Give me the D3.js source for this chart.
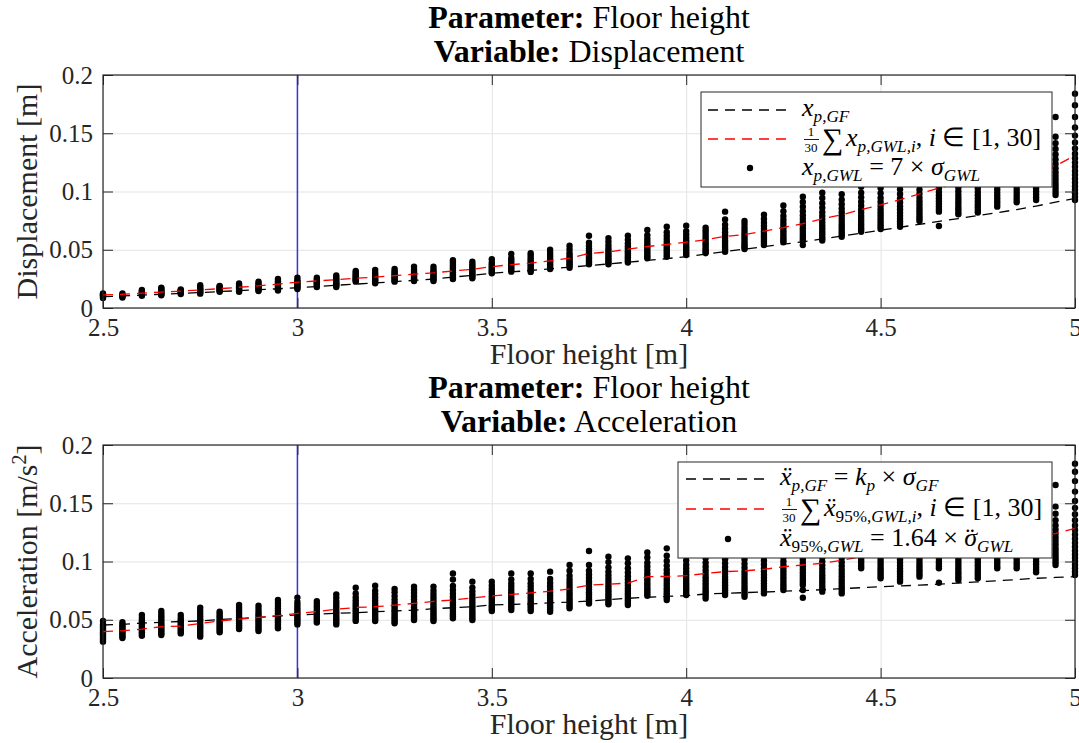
<!DOCTYPE html>
<html><head><meta charset="utf-8">
<script src="https://cdn.jsdelivr.net/npm/d3@7"></script>
<style>
body{margin:0;background:#fff}
svg text{font-family:"Liberation Serif","Times New Roman",serif !important; white-space:pre}
</style></head>
<body><svg id="c" width="1079" height="743"></svg>
<script>
// ---------------- DATA ----------------
const floorHeights = [2.5,2.55,2.6,2.65,2.7,2.75,2.8,2.85,2.9,2.95,3.0,3.05,3.1,3.15,3.2,3.25,3.3,3.35,3.4,3.45,3.5,3.55,3.6,3.65,3.7,3.75,3.8,3.85,3.9,3.95,4.0,4.05,4.1,4.15,4.2,4.25,4.3,4.35,4.4,4.45,4.5,4.55,4.6,4.65,4.7,4.75,4.8,4.85,4.9,4.95,5.0];
const xTicks = [2.5,3,3.5,4,4.5,5];
const xTickLabels = ["2.5","3","3.5","4","4.5","5"];
const yTicks = [0,0.05,0.1,0.15,0.2];
const yTickLabels = ["0","0.05","0.1","0.15","0.2"];
const referenceHeight = 3.0;

// Displacement: ground floor (GF) peak, mean of GWL peaks, GWL peaks (30 per height, overlapping)
const dispGF = [0.0097,0.0104,0.0111,0.0118,0.0125,0.0133,0.0141,0.0149,0.0157,0.0165,0.0174,0.0184,0.0195,0.0205,0.0215,0.0226,0.0237,0.0249,0.0265,0.0281,0.0298,0.031,0.0322,0.0336,0.035,0.0364,0.0378,0.0393,0.0408,0.0424,0.0441,0.0462,0.0484,0.0505,0.0527,0.0548,0.0568,0.0593,0.0618,0.0643,0.0668,0.0693,0.0718,0.0743,0.0768,0.0793,0.0818,0.0845,0.0875,0.0908,0.0941];
const dispMean = [0.0112,0.0118,0.0127,0.0137,0.0145,0.0155,0.0166,0.0178,0.019,0.0205,0.0222,0.0232,0.0244,0.0255,0.0265,0.0278,0.029,0.0302,0.0318,0.0332,0.0355,0.0372,0.0385,0.0405,0.0428,0.0468,0.0482,0.0505,0.0528,0.0545,0.0565,0.0585,0.0615,0.063,0.066,0.069,0.0725,0.0765,0.08,0.0845,0.0885,0.093,0.098,0.103,0.107,0.11,0.113,0.116,0.119,0.122,0.131];
const dispGWL = [
[0.0085,0.0095,0.0103,0.011,0.0118,0.0125],
[0.009,0.0098,0.0106,0.0114,0.0125],
[0.0105,0.0113,0.012,0.0128,0.0137,0.0146,0.0155],
[0.011,0.0118,0.0126,0.0135,0.0145,0.0155,0.0165,0.0175],
[0.012,0.0128,0.0136,0.0145,0.0152,0.016],
[0.0123,0.0132,0.0141,0.015,0.016,0.017,0.018,0.0195],
[0.014,0.0148,0.0156,0.0165,0.0175,0.0183,0.019],
[0.014,0.0148,0.0157,0.0166,0.0176,0.0186,0.0198,0.021],
[0.0146,0.0155,0.0165,0.0175,0.0185,0.0196,0.021,0.0226],
[0.015,0.016,0.017,0.018,0.019,0.0202,0.0215,0.023,0.025],
[0.0163,0.0173,0.0183,0.0193,0.0204,0.0215,0.0226,0.0238,0.026],
[0.018,0.019,0.02,0.021,0.022,0.023,0.0245,0.026],
[0.018,0.019,0.0201,0.0212,0.0224,0.0236,0.0248,0.0262,0.028],
[0.0226,0.0236,0.0246,0.0256,0.0267,0.0278,0.029,0.0303,0.0318],
[0.0212,0.0224,0.0236,0.0248,0.026,0.0272,0.0285,0.03,0.0326],
[0.0226,0.0238,0.025,0.0262,0.0274,0.0287,0.03,0.0316,0.0335],
[0.0232,0.0245,0.0258,0.0271,0.0284,0.0298,0.0312,0.0328,0.0355],
[0.0232,0.0245,0.0258,0.0271,0.0284,0.0298,0.0312,0.033,0.0355],
[0.0249,0.0262,0.0276,0.029,0.0305,0.032,0.0336,0.0352,0.037,0.039,0.041],
[0.0255,0.0268,0.0282,0.0296,0.031,0.0325,0.034,0.0356,0.0375,0.0398],
[0.0298,0.031,0.0322,0.0334,0.0347,0.036,0.0374,0.039,0.0418],
[0.0312,0.0325,0.0338,0.0352,0.0366,0.038,0.0396,0.0412,0.043,0.0464],
[0.031,0.0323,0.0337,0.0351,0.0366,0.0381,0.0397,0.0414,0.0432,0.0452,0.047],
[0.0335,0.0348,0.0362,0.0376,0.0391,0.0406,0.0422,0.044,0.046,0.048,0.05],
[0.0346,0.036,0.0375,0.039,0.0405,0.042,0.0437,0.0455,0.0475,0.0505,0.0535],
[0.0375,0.039,0.0405,0.042,0.0436,0.0452,0.047,0.049,0.051,0.0535,0.056,0.062],
[0.0375,0.039,0.0406,0.0422,0.0439,0.0456,0.0474,0.0494,0.0516,0.054,0.057,0.06],
[0.039,0.0405,0.042,0.0436,0.0453,0.047,0.0488,0.0508,0.053,0.0555,0.0585,0.062],
[0.0426,0.0441,0.0457,0.0473,0.049,0.0508,0.0527,0.0548,0.057,0.0595,0.0625,0.067],
[0.044,0.0456,0.0472,0.0489,0.0507,0.0526,0.0546,0.0568,0.0592,0.062,0.065,0.0698],
[0.0455,0.047,0.0486,0.0503,0.0521,0.054,0.056,0.0582,0.0606,0.0632,0.066,0.0707],
[0.047,0.0485,0.0501,0.0518,0.0536,0.0555,0.0575,0.0597,0.062,0.0645,0.0668,0.069],
[0.0483,0.05,0.0518,0.0537,0.0557,0.0578,0.06,0.0624,0.065,0.068,0.0715,0.076,0.0827],
[0.0506,0.0522,0.0539,0.0557,0.0576,0.0596,0.0618,0.064,0.0665,0.0692,0.072,0.0747],
[0.054,0.0557,0.0575,0.0594,0.0614,0.0635,0.0657,0.068,0.0705,0.0732,0.0765,0.08],
[0.0564,0.058,0.0598,0.0617,0.0637,0.0658,0.068,0.0704,0.073,0.0758,0.079,0.083,0.088],
[0.054,0.0575,0.0595,0.0616,0.0638,0.0661,0.0685,0.071,0.0737,0.0766,0.0797,0.083,0.087,0.091,0.0955],
[0.058,0.0598,0.0618,0.0639,0.0661,0.0684,0.0708,0.0733,0.076,0.079,0.0822,0.086,0.09,0.0945,0.099],
[0.0612,0.063,0.065,0.0671,0.0693,0.0716,0.074,0.0766,0.0793,0.0822,0.0855,0.089,0.093,0.0976],
[0.0655,0.0675,0.0696,0.0718,0.0741,0.0765,0.079,0.0817,0.0846,0.0878,0.0912,0.095,0.099,0.104,0.11,0.116],
[0.0678,0.07,0.0722,0.0745,0.0769,0.0794,0.082,0.0848,0.0878,0.091,0.0945,0.0985,0.103,0.108,0.114,0.12],
[0.0698,0.072,0.0743,0.0767,0.0792,0.0818,0.0845,0.0874,0.0905,0.094,0.0978,0.102,0.107,0.113,0.12],
[0.0747,0.0768,0.079,0.0813,0.0837,0.0862,0.0888,0.0916,0.0946,0.098,0.1015,0.1055,0.11,0.117,0.125],
[0.0704,0.0827,0.0848,0.087,0.0893,0.0917,0.0942,0.0968,0.0996,0.1027,0.106,0.11,0.115,0.121,0.13],
[0.0804,0.0825,0.0847,0.087,0.0894,0.0919,0.0945,0.0973,0.1003,0.1035,0.107,0.111,0.116,0.122,0.128,0.135],
[0.082,0.0842,0.0865,0.0889,0.0914,0.094,0.0967,0.0996,0.1027,0.106,0.1096,0.1135,0.118,0.124,0.131,0.14],
[0.087,0.0892,0.0915,0.0939,0.0964,0.099,0.1017,0.1046,0.1077,0.111,0.1146,0.1185,0.123,0.128,0.134,0.14],
[0.0907,0.093,0.0954,0.0979,0.1005,0.1032,0.106,0.109,0.1122,0.1156,0.1193,0.1233,0.128,0.133,0.139,0.145],
[0.0927,0.095,0.0975,0.1001,0.1028,0.1056,0.1085,0.1116,0.1149,0.1184,0.1222,0.1263,0.131,0.137,0.143,0.15],
[0.097,0.0995,0.1021,0.1048,0.1076,0.1105,0.1135,0.1166,0.12,0.1236,0.1275,0.1318,0.1365,0.1415,0.147,0.164],
[0.0927,0.0955,0.0985,0.1015,0.1046,0.1078,0.111,0.1143,0.1177,0.1212,0.1248,0.1285,0.1325,0.137,0.142,0.148,0.155,0.164,0.174,0.184]
];

// Acceleration
const accGF = [0.0455,0.046,0.0472,0.0478,0.0485,0.049,0.0502,0.051,0.052,0.0532,0.0541,0.0548,0.0555,0.056,0.0569,0.0575,0.0582,0.0595,0.0603,0.0612,0.0627,0.0631,0.0636,0.0645,0.0651,0.0661,0.0672,0.0684,0.0693,0.07,0.0706,0.0721,0.0727,0.0733,0.0738,0.0745,0.075,0.0758,0.0767,0.0775,0.0784,0.079,0.0797,0.0805,0.0815,0.0825,0.0835,0.0845,0.0856,0.0863,0.087];
const accMean = [0.0398,0.0405,0.042,0.044,0.0445,0.0468,0.049,0.0505,0.052,0.0535,0.0555,0.057,0.059,0.0605,0.0612,0.0625,0.064,0.0658,0.067,0.0688,0.0704,0.0718,0.073,0.0745,0.0765,0.0798,0.0805,0.0815,0.087,0.0872,0.0878,0.0898,0.0913,0.092,0.0933,0.0955,0.097,0.0985,0.101,0.104,0.106,0.108,0.11,0.112,0.114,0.116,0.118,0.12,0.122,0.124,0.1285];
const accGWL = [
[0.0312,0.0328,0.0344,0.036,0.0376,0.0392,0.0408,0.0425,0.0442,0.046,0.0489],
[0.0343,0.0357,0.0371,0.0385,0.04,0.0415,0.043,0.0445,0.046,0.0478],
[0.0363,0.0378,0.0393,0.0409,0.0425,0.0441,0.0458,0.0475,0.0494,0.0515,0.0541],
[0.0369,0.0385,0.0401,0.0418,0.0435,0.0452,0.047,0.0489,0.0509,0.053,0.0552,0.0575],
[0.0383,0.0398,0.0413,0.0429,0.0445,0.0461,0.0478,0.0496,0.0516,0.0541],
[0.0355,0.0372,0.039,0.0408,0.0426,0.0445,0.0464,0.0484,0.0505,0.0527,0.055,0.0575,0.0603],
[0.0392,0.0408,0.0424,0.044,0.0457,0.0474,0.0492,0.0511,0.0531,0.055,0.0569],
[0.042,0.0436,0.0452,0.0469,0.0486,0.0504,0.0522,0.0541,0.0561,0.0582,0.0604,0.0626],
[0.0403,0.042,0.0437,0.0454,0.0472,0.049,0.0509,0.0528,0.0548,0.0569,0.0594,0.062],
[0.0426,0.0443,0.046,0.0478,0.0496,0.0515,0.0534,0.0554,0.0575,0.0597,0.062,0.0644,0.0669],
[0.046,0.0476,0.0493,0.051,0.0528,0.0546,0.0565,0.0585,0.0606,0.0628,0.0652,0.069],
[0.0477,0.0492,0.0508,0.0524,0.0541,0.0558,0.0576,0.0595,0.0615,0.0637,0.066],
[0.046,0.0477,0.0495,0.0513,0.0532,0.0551,0.0571,0.0592,0.0614,0.0637,0.0662,0.069,0.0718],
[0.049,0.0507,0.0525,0.0543,0.0562,0.0581,0.0601,0.0622,0.0644,0.0668,0.0694,0.0725,0.0775],
[0.0489,0.0506,0.0524,0.0542,0.0561,0.058,0.06,0.0621,0.0643,0.0667,0.0693,0.072,0.075,0.0792],
[0.0469,0.0486,0.0504,0.0522,0.0541,0.056,0.058,0.0601,0.0623,0.0647,0.0673,0.0703,0.0735,0.0764],
[0.0498,0.0515,0.0533,0.0551,0.057,0.0589,0.0609,0.063,0.0652,0.0676,0.0702,0.073,0.0755,0.0784],
[0.0489,0.0506,0.0524,0.0542,0.0561,0.058,0.06,0.0621,0.0643,0.0667,0.0693,0.072,0.075,0.0784],
[0.0512,0.053,0.0548,0.0567,0.0586,0.0606,0.0627,0.0649,0.0672,0.0697,0.0724,0.0755,0.079,0.0845,0.0898],
[0.0498,0.0516,0.0535,0.0554,0.0574,0.0594,0.0615,0.0637,0.066,0.0685,0.0712,0.0742,0.0776,0.0827],
[0.0575,0.0591,0.0608,0.0625,0.0643,0.0661,0.068,0.07,0.0721,0.0743,0.0767,0.0795,0.0827],
[0.0583,0.06,0.0618,0.0636,0.0655,0.0674,0.0694,0.0715,0.0737,0.076,0.0785,0.0812,0.0845,0.0898],
[0.0575,0.0593,0.0611,0.063,0.0649,0.0669,0.069,0.0712,0.0735,0.0759,0.0785,0.0813,0.085,0.0898],
[0.0569,0.0587,0.0606,0.0625,0.0645,0.0666,0.0688,0.0711,0.0735,0.076,0.0787,0.0816,0.085,0.0913],
[0.0598,0.0616,0.0635,0.0655,0.0675,0.0696,0.0718,0.0741,0.0765,0.079,0.0817,0.0846,0.0878,0.092,0.097],
[0.064,0.0658,0.0677,0.0696,0.0716,0.0737,0.0759,0.0782,0.0806,0.0831,0.0858,0.0888,0.092,0.097,0.109],
[0.0632,0.065,0.0669,0.0689,0.0709,0.073,0.0752,0.0775,0.0799,0.0824,0.0851,0.088,0.0912,0.095,0.0995,0.1041],
[0.0626,0.0644,0.0663,0.0683,0.0703,0.0724,0.0746,0.0769,0.0793,0.0818,0.0845,0.0874,0.0906,0.0943,0.0985,0.1027],
[0.0706,0.0724,0.0743,0.0762,0.0782,0.0803,0.0825,0.0848,0.0872,0.0898,0.0926,0.0957,0.099,0.1035,0.1078],
[0.0669,0.0688,0.0708,0.0728,0.0749,0.0771,0.0794,0.0818,0.0843,0.087,0.0899,0.093,0.0965,0.1005,0.105,0.1113],
[0.0712,0.0731,0.0751,0.0771,0.0792,0.0814,0.0837,0.0861,0.0886,0.0913,0.0942,0.0973,0.1008,0.105,0.11],
[0.0683,0.0703,0.0724,0.0745,0.0767,0.079,0.0814,0.0839,0.0865,0.0893,0.0923,0.0955,0.099,0.103,0.108,0.114],
[0.0712,0.0732,0.0753,0.0774,0.0796,0.0819,0.0843,0.0868,0.0894,0.0922,0.0952,0.0984,0.102,0.106,0.111,0.117],
[0.0698,0.0718,0.0739,0.0761,0.0784,0.0808,0.0833,0.0859,0.0886,0.0915,0.0946,0.098,0.1017,0.106,0.11,0.115],
[0.0726,0.0746,0.0767,0.0789,0.0812,0.0836,0.0861,0.0887,0.0914,0.0943,0.0974,0.1008,0.1045,0.109,0.114,0.12],
[0.0755,0.0775,0.0796,0.0818,0.0841,0.0865,0.089,0.0916,0.0943,0.0972,0.1003,0.1037,0.1075,0.112,0.117,0.122],
[0.0689,0.0755,0.0798,0.0818,0.0839,0.0861,0.0884,0.0908,0.0933,0.0959,0.0987,0.1017,0.105,0.1087,0.113,0.118,0.125],
[0.0741,0.0762,0.0784,0.0807,0.0831,0.0856,0.0882,0.0909,0.0937,0.0967,0.0999,0.1034,0.1072,0.1115,0.1165,0.125],
[0.0726,0.0748,0.0771,0.0795,0.082,0.0846,0.0873,0.0901,0.093,0.0961,0.0994,0.103,0.107,0.1115,0.117,0.128],
[0.0941,0.096,0.098,0.1,0.1021,0.1043,0.1066,0.109,0.1115,0.1142,0.117,0.121,0.125],
[0.0856,0.0876,0.0897,0.0918,0.094,0.0963,0.0987,0.1012,0.1038,0.1065,0.1094,0.1125,0.116,0.12,0.125,0.13],
[0.0827,0.0848,0.087,0.0892,0.0915,0.0939,0.0964,0.099,0.1017,0.1045,0.1075,0.1108,0.1145,0.119,0.124,0.13],
[0.087,0.0891,0.0912,0.0934,0.0957,0.0981,0.1006,0.1032,0.1059,0.1087,0.1117,0.115,0.1187,0.123,0.127,0.132],
[0.0818,0.0941,0.096,0.098,0.1001,0.1023,0.1046,0.107,0.1095,0.1121,0.1149,0.118,0.1215,0.1255,0.129,0.133],
[0.0841,0.0862,0.0884,0.0906,0.0929,0.0953,0.0978,0.1004,0.1031,0.1059,0.1089,0.1121,0.1157,0.12,0.127,0.135],
[0.0856,0.0877,0.0899,0.0921,0.0944,0.0968,0.0993,0.1019,0.1046,0.1074,0.1104,0.1136,0.1172,0.1215,0.128,0.135],
[0.0941,0.096,0.098,0.1001,0.1023,0.1046,0.107,0.1095,0.1121,0.1148,0.1177,0.1208,0.1243,0.128,0.133,0.138],
[0.0941,0.0961,0.0982,0.1004,0.1027,0.1051,0.1076,0.1102,0.1129,0.1157,0.1187,0.1219,0.1255,0.1295,0.134,0.14],
[0.0907,0.0929,0.0952,0.0976,0.1,0.1025,0.1051,0.1078,0.1106,0.1135,0.1166,0.12,0.1237,0.128,0.134,0.142],
[0.097,0.0993,0.1017,0.1041,0.1066,0.1092,0.1119,0.1147,0.1176,0.1206,0.1238,0.1272,0.131,0.1355,0.141,0.1471,0.1657],
[0.0884,0.0912,0.0941,0.097,0.1,0.103,0.1061,0.1093,0.1126,0.116,0.1195,0.1232,0.127,0.131,0.1355,0.1405,0.146,0.152,0.16,0.169,0.177,0.184]
];

// ---------------- DRAWING ----------------
const svg = d3.select("#c");
const AX = "#262626";
const x = d3.scaleLinear().domain([2.5, 5]).range([103, 1075]);

// parts: [text, kind]; kinds: r roman, i italic, sr/si subscript roman/italic, acc = accent over previous glyph
function mathLine(g, px, py, parts, fs) {
  const t = g.append("text").attr("x", px).attr("y", py).style("font-size", fs + "px").attr("fill", "#000");
  const SUB = 0.66, SH = 0.24;
  let inSub = false, pendingDx = 0;
  parts.forEach(([s, k]) => {
    if (k === "acc") {
      t.append("tspan").text(s).style("font-size", fs + "px").style("font-style", "normal")
        .attr("dx", -fs * 0.44).attr("dy", 0);
      pendingDx = fs * 0.1;
      return;
    }
    const sub = k[0] === "s";
    const ts = t.append("tspan").text(s)
      .style("font-size", (sub ? fs * SUB : fs) + "px")
      .style("font-style", (k === "i" || k === "si") ? "italic" : "normal");
    if (sub && !inSub) ts.attr("dy", fs * SH);
    if (!sub && inSub) ts.attr("dy", -fs * SH);
    if (pendingDx) { ts.attr("dx", pendingDx); pendingDx = 0; }
    inSub = sub;
  });
  return t;
}

function fractionSum(g, px, py) {
  g.append("text").attr("x", px + 9).attr("y", py - 10).attr("text-anchor", "middle").style("font-size", "13px").text("1");
  g.append("line").attr("x1", px + 2).attr("x2", px + 17).attr("y1", py - 6.5).attr("y2", py - 6.5).attr("stroke", "#000").attr("stroke-width", 0.9);
  g.append("text").attr("x", px + 9).attr("y", py + 6).attr("text-anchor", "middle").style("font-size", "13px").text("30");
  g.append("text").attr("x", px + 20).attr("y", py + 3).style("font-size", "30px").text("∑");
  return px + 44;
}

function panel(cfg) {
  const top = cfg.top, bottom = cfg.bottom;
  const y = d3.scaleLinear().domain([0, 0.2]).range([bottom, top]);
  const g = svg.append("g");

  // grid
  g.append("g").attr("transform", `translate(0,${bottom})`)
    .call(d3.axisBottom(x).tickValues(xTicks).tickSize(-(bottom - top)).tickFormat(""))
    .call(s => { s.select(".domain").remove(); s.selectAll("line").attr("stroke", "#e3e3e3").attr("stroke-width", 1); });
  g.append("g").attr("transform", `translate(103,0)`)
    .call(d3.axisLeft(y).tickValues(yTicks).tickSize(-(1075 - 103)).tickFormat(""))
    .call(s => { s.select(".domain").remove(); s.selectAll("line").attr("stroke", "#e3e3e3").attr("stroke-width", 1); });

  // reference floor height line
  g.append("line").attr("x1", x(referenceHeight)).attr("x2", x(referenceHeight))
    .attr("y1", top).attr("y2", bottom).attr("stroke", "#3838e0").attr("stroke-width", 1.5);

  // points
  const pts = [];
  cfg.pts.forEach((col, i) => col.forEach(v => pts.push([floorHeights[i], v])));
  g.append("g").selectAll("circle").data(pts).join("circle")
    .attr("cx", d => x(d[0])).attr("cy", d => y(d[1])).attr("r", 3.2).attr("fill", "#000");

  const line = d3.line().x((d, i) => x(floorHeights[i])).y(d => y(d));
  g.append("path").datum(cfg.gf).attr("d", line).attr("fill", "none")
    .attr("stroke", "#000").attr("stroke-width", 1.3).attr("stroke-dasharray", "10,7");
  g.append("path").datum(cfg.mean).attr("d", line).attr("fill", "none")
    .attr("stroke", "#ff0000").attr("stroke-width", 1.3).attr("stroke-dasharray", "10,7");

  // axes
  const styleAxis = s => {
    s.attr("font-family", null).attr("font-size", null);
    s.select(".domain").remove();
    s.selectAll("line").attr("stroke", AX);
    s.selectAll("text").attr("fill", AX).style("font-size", "25px");
  };
  g.append("g").attr("transform", `translate(0,${bottom})`)
    .call(d3.axisBottom(x).tickValues(xTicks).tickSizeInner(-10).tickSizeOuter(0).tickPadding(10)
      .tickFormat((d, i) => xTickLabels[i])).call(styleAxis);
  g.append("g").attr("transform", `translate(0,${top})`)
    .call(d3.axisTop(x).tickValues(xTicks).tickSizeInner(-10).tickSizeOuter(0).tickFormat("")).call(styleAxis);
  g.append("g").attr("transform", `translate(103,0)`)
    .call(d3.axisLeft(y).tickValues(yTicks).tickSizeInner(-10).tickSizeOuter(0).tickPadding(10)
      .tickFormat((d, i) => yTickLabels[i])).call(styleAxis);
  g.append("g").attr("transform", `translate(1075,0)`)
    .call(d3.axisRight(y).tickValues(yTicks).tickSizeInner(-10).tickSizeOuter(0).tickFormat("")).call(styleAxis);
  g.append("rect").attr("x", 103).attr("y", top).attr("width", 1075 - 103).attr("height", bottom - top)
    .attr("fill", "none").attr("stroke", AX).attr("stroke-width", 1.2);

  // titles
  const t1 = g.append("text").attr("x", 589).attr("y", top - 47).attr("text-anchor", "middle").style("font-size", "32px");
  t1.append("tspan").style("font-weight", "bold").text("Parameter:");
  t1.append("tspan").text(" Floor height");
  const t2 = g.append("text").attr("x", 589).attr("y", top - 13).attr("text-anchor", "middle").style("font-size", "32px");
  t2.append("tspan").style("font-weight", "bold").text("Variable:");
  t2.append("tspan").text(" " + cfg.variable);

  // axis labels
  g.append("text").attr("x", 589).attr("y", bottom + 56).attr("text-anchor", "middle")
    .style("font-size", "30px").attr("fill", AX).text("Floor height [m]");
  const yl = g.append("text").attr("transform", `translate(37,${(top + bottom) / 2}) rotate(-90)`)
    .attr("text-anchor", "middle").style("font-size", "30px").attr("fill", AX);
  cfg.ylabel(yl);

  // legend
  const L = cfg.legend;
  const lg = g.append("g");
  lg.append("rect").attr("x", L.x0).attr("y", L.y0).attr("width", L.x1 - L.x0).attr("height", L.y1 - L.y0)
    .attr("fill", "#fff").attr("stroke", AX).attr("stroke-width", 1);
  lg.append("line").attr("x1", L.lx0).attr("x2", L.lx1).attr("y1", L.rows[0]).attr("y2", L.rows[0])
    .attr("stroke", "#000").attr("stroke-width", 1.3).attr("stroke-dasharray", "10,7");
  lg.append("line").attr("x1", L.lx0).attr("x2", L.lx1).attr("y1", L.rows[1]).attr("y2", L.rows[1])
    .attr("stroke", "#ff0000").attr("stroke-width", 1.3).attr("stroke-dasharray", "10,7");
  lg.append("circle").attr("cx", (L.lx0 + L.lx1) / 2).attr("cy", L.rows[2]).attr("r", 3.2).attr("fill", "#000");
  const fs = 26;
  mathLine(lg, L.tx, L.rows[0] + 6, L.text[0], fs);
  const nx = fractionSum(lg, L.tx, L.rows[1] + 7);
  mathLine(lg, nx, L.rows[1] + 7, L.text[1], fs);
  mathLine(lg, L.tx, L.rows[2] + 7, L.text[2], fs);
}

panel({
  top: 75, bottom: 308, variable: "Displacement",
  gf: dispGF, mean: dispMean, pts: dispGWL,
  ylabel: t => t.text("Displacement [m]"),
  legend: {
    x0: 701, x1: 1052, y0: 92, y1: 187, lx0: 708, lx1: 792, tx: 802, rows: [110, 139, 168],
    text: [
      [["x", "i"], ["p,GF", "si"]],
      [["x", "i"], ["p,GWL,i", "si"], [", ", "r"], ["i", "i"], [" ∈ [1, 30]", "r"]],
      [["x", "i"], ["p,GWL", "si"], [" = 7 × ", "r"], ["σ", "i"], ["GWL", "si"]]
    ]
  }
});

panel({
  top: 445, bottom: 678, variable: "Acceleration",
  gf: accGF, mean: accMean, pts: accGWL,
  ylabel: t => {
    t.append("tspan").text("Acceleration [m/s");
    t.append("tspan").style("font-size", "20px").attr("dy", -11).text("2");
    t.append("tspan").attr("dy", 11).text("]");
  },
  legend: {
    x0: 678, x1: 1052, y0: 462, y1: 558, lx0: 686, lx1: 770, tx: 780, rows: [479, 509, 539],
    text: [
      [["ẍ", "i"], ["p,GF", "si"], [" = ", "r"], ["k", "i"], ["p", "si"], [" × ", "r"], ["σ", "i"], ["GF", "si"]],
      [["ẍ", "i"], ["95%,", "sr"], ["GWL,i", "si"], [", ", "r"], ["i", "i"], [" ∈ [1, 30]", "r"]],
      [["ẍ", "i"], ["95%,", "sr"], ["GWL", "si"], [" = 1.64 × ", "r"], ["σ", "i"], ["¨", "acc"], ["GWL", "si"]]
    ]
  }
});
</script>
</body></html>
